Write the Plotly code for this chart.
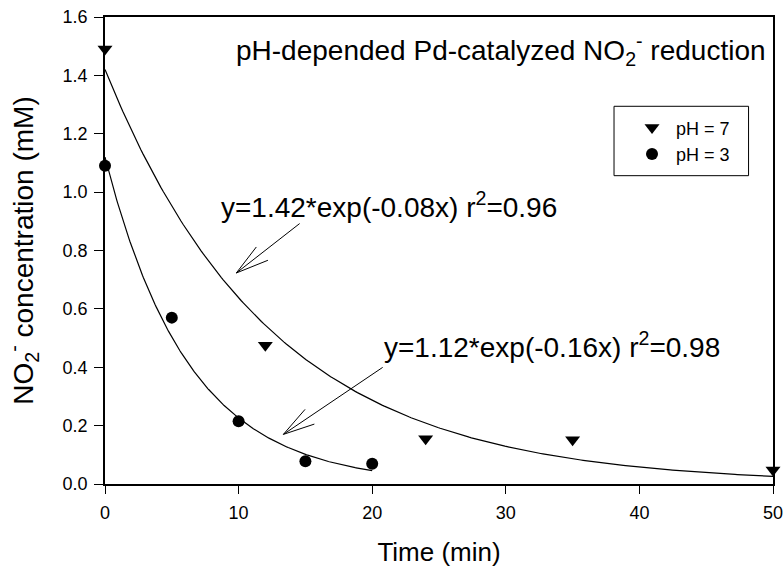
import numpy as np
import plotly.graph_objects as go

# ---- data ----
time_ph7 = [0, 12, 24, 35, 50]
conc_ph7 = [1.49, 0.475, 0.155, 0.152, 0.048]
time_ph3 = [0, 5, 10, 15, 20]
conc_ph3 = [1.09, 0.57, 0.215, 0.078, 0.069]

# fitted exponential models shown in the chart: y = a*exp(-k x)
fit_ph7 = {"a": 1.42, "k": 0.08, "xmax": 50}
fit_ph3 = {"a": 1.12, "k": 0.16, "xmax": 20}

x_ticks = [0, 10, 20, 30, 40, 50]
y_ticks = [0.0, 0.2, 0.4, 0.6, 0.8, 1.0, 1.2, 1.4, 1.6]
y_tick_labels = ["0.0", "0.2", "0.4", "0.6", "0.8", "1.0", "1.2", "1.4", "1.6"]

FONT = "Liberation Sans, Arial, sans-serif"

fig = go.Figure()

for fit in (fit_ph7, fit_ph3):
    xs = np.linspace(0, fit["xmax"], 300)
    fig.add_trace(go.Scatter(x=xs, y=fit["a"] * np.exp(-fit["k"] * xs), mode="lines",
                             line=dict(color="black", width=1.2), showlegend=False,
                             hoverinfo="skip"))

fig.add_trace(go.Scatter(x=time_ph7, y=conc_ph7, mode="markers", name="pH = 7",
                         marker=dict(symbol="triangle-down", size=13, color="black"),
                         cliponaxis=False))
fig.add_trace(go.Scatter(x=time_ph3, y=conc_ph3, mode="markers", name="pH = 3",
                         marker=dict(symbol="circle", size=12, color="black"),
                         cliponaxis=False))

annotations = [
    dict(text="pH-depended Pd-catalyzed NO<sub>2</sub><sup>-</sup> reduction",
         xref="paper", yref="paper", x=0.992, y=0.93, xanchor="right", yanchor="middle",
         showarrow=False, font=dict(size=28, color="black", family=FONT)),
    dict(text="y=1.42*exp(-0.08x) r<sup>2</sup>=0.96",
         xref="paper", yref="paper", x=0.171, y=0.598, xanchor="left", yanchor="middle",
         showarrow=False, font=dict(size=28, color="black", family=FONT)),
    dict(text="y=1.12*exp(-0.16x) r<sup>2</sup>=0.98",
         xref="paper", yref="paper", x=0.415, y=0.297, xanchor="left", yanchor="middle",
         showarrow=False, font=dict(size=28, color="black", family=FONT)),
]

# arrows: head point in data units; shaft and barb end offsets in pixels (right, down)
arrow_specs = [
    (9.83, 0.723, [(63.3, -49.4), (20, -26), (31.6, -12.7)]),
    (13.35, 0.170, [(99.3, -67), (21.7, -25), (31, -10.3)]),
]
shapes = []
for hx, hy, segs in arrow_specs:
    for dx, dy in segs:
        shapes.append(dict(type="line", xref="x", yref="y",
                           xsizemode="pixel", ysizemode="pixel",
                           xanchor=hx, yanchor=hy, x0=0, y0=0, x1=dx, y1=-dy,
                           line=dict(color="black", width=1)))

# legend frame
shapes.append(dict(type="rect", xref="paper", yref="paper",
                   x0=0.762, x1=0.9634, y0=0.6602, y1=0.8088,
                   line=dict(color="black", width=1), fillcolor="rgba(0,0,0,0)"))

fig.update_layout(
    width=784, height=569,
    margin=dict(l=105, r=11, t=17, b=85),
    paper_bgcolor="white", plot_bgcolor="white",
    font=dict(family=FONT, color="black"),
    showlegend=True,
    legend=dict(x=0.768, y=0.7347, xanchor="left", yanchor="middle",
                borderwidth=0, bgcolor="rgba(0,0,0,0)",
                font=dict(size=18, family=FONT), indentation=10, itemwidth=38,
                tracegroupgap=0),
    annotations=annotations,
    shapes=shapes,
    xaxis=dict(range=[0, 50], tickvals=x_ticks, ticks="outside", ticklen=8,
               tickwidth=1, tickcolor="black", showline=True, linecolor="black",
               linewidth=1.5, mirror=True, showgrid=False, zeroline=False,
               automargin=False, tickfont=dict(size=18), ticklabelstandoff=4,
               title=dict(text="Time (min)", font=dict(size=26), standoff=20)),
    yaxis=dict(range=[0, 1.6], tickvals=y_ticks, ticktext=y_tick_labels,
               ticks="outside", ticklen=9, tickwidth=1, tickcolor="black",
               showline=True, linecolor="black", linewidth=1.5, mirror=True,
               showgrid=False, zeroline=False, automargin=False, tickfont=dict(size=18),
               ticklabelstandoff=3,
               title=dict(text="NO<sub>2</sub><sup>-</sup> concentration (mM)",
                          font=dict(size=28), standoff=21)),
)

fig.write_html("out.html")
